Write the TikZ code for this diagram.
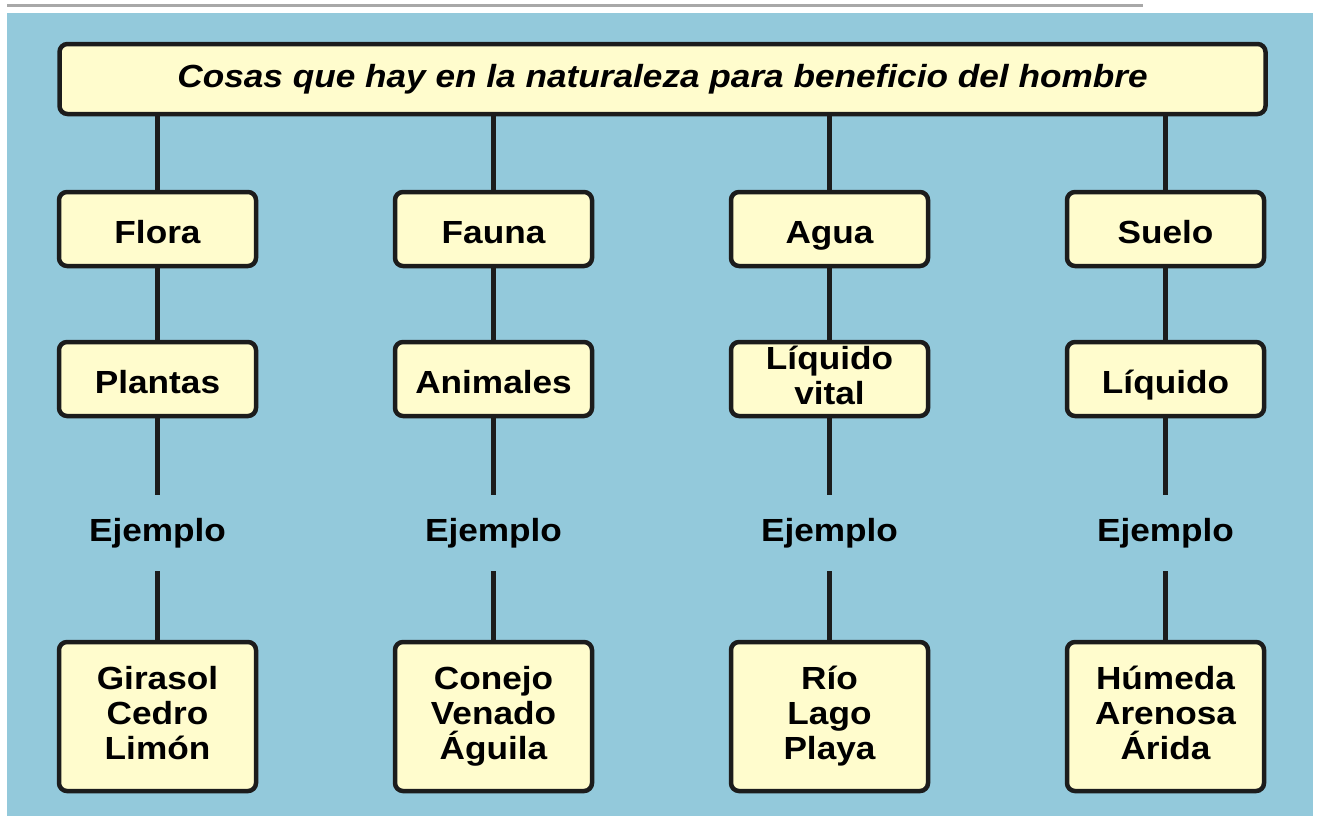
\documentclass[tikz,border=0pt]{standalone}
\usepackage{fontspec}
\setmainfont{Liberation Sans}[FakeStretch=1.1]
\usepackage{tikz}
\usetikzlibrary{positioning,backgrounds}
\definecolor{cSky}{HTML}{93C9DB}
\definecolor{cBox}{HTML}{FFFCCD}
\definecolor{cInk}{HTML}{1C1C1C}
\definecolor{cRule}{HTML}{A8A8A8}
% fixed line height, so that every box puts its baseline at the same place
\newcommand{\boxstrut}{\rule[-7pt]{0pt}{42pt}}

\begin{document}
\begin{tikzpicture}[
  x=1pt, y=-1pt,
  font=\fontsize{32}{35}\selectfont\bfseries,
  bx/.style   = {draw=cInk, fill=cBox, line width=4.5pt, rounded corners=8pt,
                 minimum width=197pt, minimum height=74pt, align=center, inner sep=0pt,
                 execute at begin node=\boxstrut, execute at end node=\boxstrut},
  hd/.style   = {draw=cInk, fill=cBox, line width=4.5pt, rounded corners=8pt,
                 minimum width=1206pt, minimum height=70pt, inner sep=0pt,
                 font=\fontsize{32}{35}\selectfont\bfseries\itshape},
  ex/.style   = {bx, minimum height=149pt},
  note/.style = {minimum width=197pt, minimum height=76pt, inner sep=0pt, align=center},
  ln/.style   = {draw=cInk, line width=5pt},
]
\useasboundingbox (0,0) rectangle (1322,819);
\fill[cSky] (7,13) rectangle (1313,816);
\draw[cRule, line width=2.5pt] (7,5.5) -- (1143,5.5);

\node[hd] (top) at (662.5,79) {Cosas que hay en la naturaleza para beneficio del hombre};

\def\colsep{336pt}
\foreach \i/\cat/\kind/\ejs in {
  0/Flora/Plantas/{Girasol\\Cedro\\Limón},
  1/Fauna/Animales/{Conejo\\Venado\\Águila},
  2/Agua/{Líquido\\vital}/{Río\\Lago\\Playa},
  3/Suelo/Líquido/{Húmeda\\Arenosa\\Árida}}
{
  \begin{scope}[xshift=\i*\colsep]
    \node[bx]   (c\i) at (157.5,229)   {\cat};
    \node[bx]   (k\i) at (157.5,379)   {\kind};
    \node[note] (e\i) at (157.5,533)   {Ejemplo};
    \node[ex]   (x\i) at (157.5,716.5) {\ejs};
    \draw[ln] (top.south -| c\i) -- (c\i);
    \foreach \a/\b in {c\i/k\i, k\i/e\i, e\i/x\i}
      \draw[ln] (\a) -- (\b);
  \end{scope}
}
\end{tikzpicture}
\end{document}
